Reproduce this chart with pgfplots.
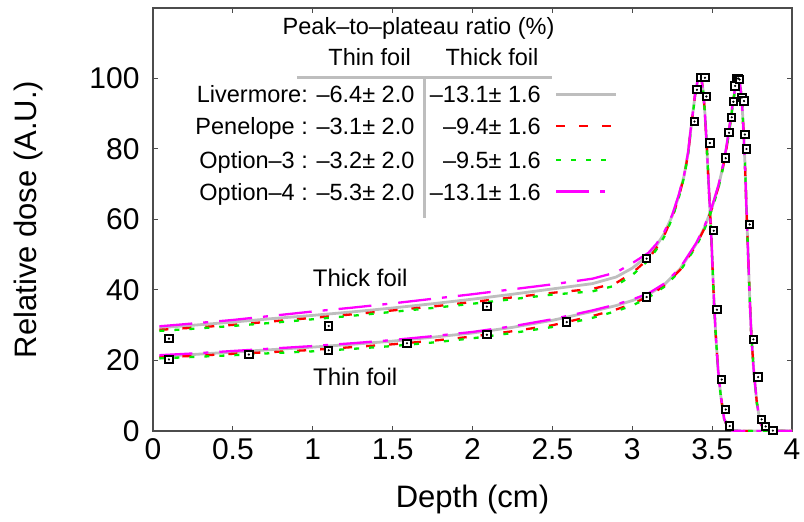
\documentclass[border=0pt]{standalone}
\usepackage{pgfplots}
\pgfplotsset{compat=1.18}
\usepackage{pgfplotstable}
\usepackage{fontspec}
\setmainfont{Liberation Sans}

% Thin foil: depth, Livermore, Penelope, Option-3, Option-4
\pgfplotstableread{
x L P O T
0.04 21.2 20.9 20.6 21.5
0.25 21.7 21.3 21.0 22.0
0.5 22.4 21.9 21.5 22.7
0.75 23.1 22.4 22.1 23.4
1.0 23.8 23.0 22.6 24.1
1.25 24.6 23.8 23.3 24.9
1.5 25.5 24.6 24.1 25.8
1.75 26.6 25.6 25.1 26.9
2.0 27.8 26.8 26.3 28.1
2.25 29.4 28.3 27.8 29.7
2.5 31.4 30.0 29.5 31.7
2.75 33.9 32.6 32.1 34.2
2.9 35.6 34.5 34.0 35.9
3.0 37.0 36.0 35.6 37.3
3.1 38.7 38.2 37.8 39.0
3.2 41.5 41.2 40.9 41.8
3.3 46.0 45.7 45.4 46.3
3.4 53.0 52.7 52.4 53.3
3.45 57.5 57.3 57.0 57.8
3.5 63.5 63.3 63.0 63.8
3.54 69.5 69.3 69.0 69.8
3.57 75.5 75.3 75.0 75.8
3.59 80.5 80.3 80.0 80.8
3.61 86.5 86.3 86.0 86.8
3.63 93.0 93.0 92.7 93.3
3.645 97.5 97.5 97.3 97.7
3.66 100 100 100 100
3.672 99.3 99.3 99.3 99.3
3.685 94.5 94.5 94.5 94.5
3.695 86.5 86.5 86.5 86.5
3.705 76.5 76.5 76.5 76.5
3.715 63.0 63.0 63.0 63.0
3.725 50.5 50.5 50.5 50.5
3.735 38.0 38.0 38.0 38.0
3.745 27.5 27.5 27.5 27.5
3.76 17.4 17.4 17.4 17.4
3.78 8.0 8.0 8.0 8.0
3.80 2.5 2.5 2.5 2.5
3.82 0.8 0.8 0.8 0.8
3.85 0.2 0.2 0.2 0.2
3.9 0 0 0 0
4.0 0 0 0 0
}\thin

% Thick foil
\pgfplotstableread{
x L P O T
0.04 29.3 28.7 28.4 29.7
0.25 30.0 29.3 29.0 30.5
0.5 30.9 30.1 29.8 31.5
0.75 31.9 31.1 30.7 32.7
1.0 32.8 32.1 31.7 33.9
1.25 33.8 33.1 32.7 35.0
1.5 34.9 34.2 33.8 36.2
1.75 36.1 35.3 34.9 37.5
2.0 37.4 36.6 36.1 38.8
2.25 38.8 37.9 37.4 40.2
2.5 40.3 39.2 38.7 41.6
2.75 41.8 40.3 39.6 43.2
2.9 43.7 42.0 41.3 45.0
3.0 46.2 44.8 44.2 47.6
3.1 49.8 48.8 48.4 50.5
3.15 52.5 51.8 51.4 53.0
3.2 56.0 55.5 55.1 56.4
3.25 61.0 60.6 60.3 61.3
3.29 66.5 66.2 66.0 66.8
3.325 72.5 72.3 72.1 72.7
3.35 79.0 78.8 78.6 79.2
3.365 85.0 84.8 84.6 85.2
3.38 90.5 90.4 90.2 90.6
3.395 96.0 96.0 95.8 96.1
3.41 99.5 99.5 99.5 99.5
3.42 100 100 100 100
3.435 99.3 99.3 99.3 99.3
3.445 96.0 96.0 96.0 96.0
3.455 90.0 90.0 90.0 90.0
3.465 82.0 82.0 82.0 82.0
3.475 73.0 73.0 73.0 73.0
3.485 64.0 64.0 64.0 64.0
3.495 55.0 55.0 55.0 55.0
3.503 46.0 46.0 46.0 46.0
3.512 36.5 36.5 36.5 36.5
3.523 27.0 27.0 27.0 27.0
3.537 17.5 17.5 17.5 17.5
3.554 10.0 10.0 10.0 10.0
3.575 3.5 3.5 3.5 3.5
3.6 0.8 0.8 0.8 0.8
3.63 0.1 0.1 0.1 0.1
3.7 0 0 0 0
4.0 0 0 0 0
}\thick

% Measurements
\pgfplotstableread{
x y
0.10 20.3
0.60 21.7
1.10 22.9
1.59 24.9
2.09 27.3
2.59 30.9
3.09 38.0
3.585 77.4
3.606 84.6
3.623 89.0
3.633 93.4
3.644 97.9
3.655 100
3.665 100
3.672 99.7
3.686 94.6
3.70 93.6
3.705 84.1
3.715 80.0
3.735 58.6
3.758 26.0
3.788 15.3
3.81 3.3
3.835 1.3
3.88 0.1
}\thinmeas

\pgfplotstableread{
x y
0.10 26.2
1.10 29.8
2.09 35.3
3.09 48.9
3.39 87.8
3.405 96.8
3.43 100.2
3.455 100.2
3.464 94.9
3.486 81.7
3.51 56.8
3.53 34.4
3.56 14.6
3.585 6.1
3.61 1.4
}\thickmeas

\definecolor{livgray}{RGB}{190,190,190}
\definecolor{penred}{RGB}{255,0,0}
\definecolor{optgreen}{RGB}{0,235,0}
\definecolor{optmag}{RGB}{255,0,255}

\tikzset{
  liv/.style={livgray, line width=2.8pt},
  pen/.style={penred, line width=2.3pt, dash pattern=on 9pt off 14pt},
  opt3/.style={optgreen, line width=2.3pt, dash pattern=on 5pt off 10pt},
  opt4/.style={optmag, line width=2.3pt, dash pattern=on 33pt off 11pt on 5pt off 11pt},
}

\begin{document}
\begin{tikzpicture}
\begin{axis}[
  scale only axis, width=639pt, height=423pt,
  xmin=0, xmax=4, ymin=0, ymax=120,
  xtick={0,0.5,1,1.5,2,2.5,3,3.5,4},
  ytick={0,20,40,60,80,100},
  tick align=inside, major tick length=5pt,
  axis line style={line width=1.3pt, color=black!70},
  every tick/.style={line width=1pt, color=black!70},
  /pgf/number format/assume math mode=true,
  ticklabel style={font=\fontsize{30}{36}\selectfont},
  xticklabel style={yshift=-4pt},
  yticklabel style={xshift=-10pt},
  xlabel={Depth (cm)}, ylabel={Relative dose (A.U.)},
  label style={font=\fontsize{31}{37}\selectfont},
  xlabel style={at={(axis description cs:0.5,-0.163)}, anchor=center},
  ylabel style={at={(axis description cs:-0.1956,0.5)}, anchor=center},
]
\addplot[liv] table[x=x,y=L] {\thick};
\addplot[liv] table[x=x,y=L] {\thin};
\addplot[pen] table[x=x,y=P] {\thick};
\addplot[pen] table[x=x,y=P] {\thin};
\addplot[opt3] table[x=x,y=O] {\thick};
\addplot[opt3] table[x=x,y=O] {\thin};
\addplot[opt4] table[x=x,y=T] {\thick};
\addplot[opt4] table[x=x,y=T] {\thin};

\addplot[only marks, mark=square*, mark size=3.7pt, mark options={fill=white, draw=black, line width=2pt, solid}] table[x=x,y=y] {\thinmeas};
\addplot[only marks, mark=square*, mark size=3.7pt, mark options={fill=white, draw=black, line width=2pt, solid}] table[x=x,y=y] {\thickmeas};
\addplot[only marks, mark=*, mark size=0.9pt, black] table[x=x,y=y] {\thinmeas};
\addplot[only marks, mark=*, mark size=0.9pt, black] table[x=x,y=y] {\thickmeas};

% curve labels
\node[font=\fontsize{24}{28}\selectfont, anchor=center] at (axis cs:1.297,43.4) {Thick foil};
\node[font=\fontsize{24}{28}\selectfont, anchor=center] at (axis cs:1.266,15.3) {Thin foil};

% legend table
\begin{scope}[every node/.style={font=\fontsize{23.5}{28}\selectfont, inner sep=0pt}]
\node[anchor=base] at (axis cs:1.6625,112.6) {Peak–to–plateau ratio (\%)};
\node[anchor=base] at (axis cs:1.356,103.7) {Thin foil};
\node[anchor=base] at (axis cs:2.122,103.7) {Thick foil};
\draw[livgray, line width=2.2pt] (axis cs:0.9,100.3) -- (axis cs:2.5,100.3);
\draw[livgray, line width=2.2pt] (axis cs:1.7,100.3) -- (axis cs:1.7,60.3);
\node[anchor=base east] at (axis cs:1.6375,93.1) {Livermore: –6.4± 2.0};
\node[anchor=base east] at (axis cs:1.6375,84.0) {Penelope : –3.1± 2.0};
\node[anchor=base east] at (axis cs:1.6375,74.6) {Option–3 : –3.2± 2.0};
\node[anchor=base east] at (axis cs:1.6375,65.4) {Option–4 : –5.3± 2.0};
\node[anchor=base east] at (axis cs:2.429,93.1) {–13.1± 1.6};
\node[anchor=base east] at (axis cs:2.429,84.0) {–9.4± 1.6};
\node[anchor=base east] at (axis cs:2.429,74.6) {–9.5± 1.6};
\node[anchor=base east] at (axis cs:2.429,65.4) {–13.1± 1.6};
\end{scope}
\draw[liv] (axis cs:2.523,95.5) -- (axis cs:2.898,95.5);
\draw[pen] (axis cs:2.523,86.5) -- (axis cs:2.898,86.5);
\draw[opt3] (axis cs:2.523,76.9) -- (axis cs:2.898,76.9);
\draw[opt4] (axis cs:2.523,67.9) -- (axis cs:2.898,67.9);
\end{axis}
\path ([shift={(-153pt,-90pt)}]current axis.south west) rectangle ([shift={(12pt,8pt)}]current axis.north east);
\end{tikzpicture}
\end{document}
